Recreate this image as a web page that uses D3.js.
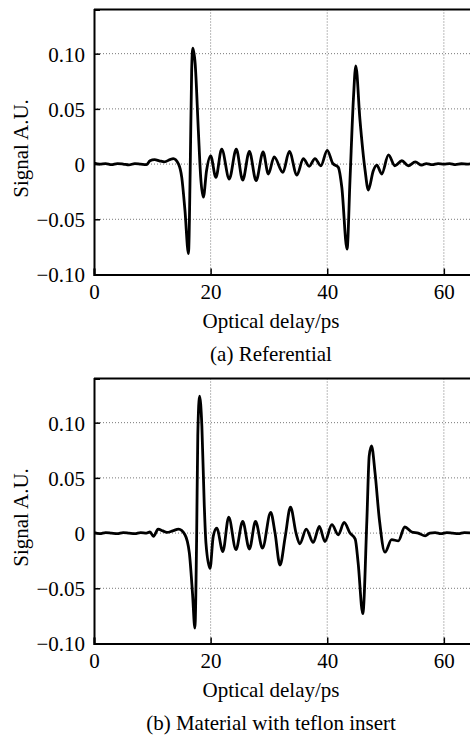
<!DOCTYPE html>
<html>
<head>
<meta charset="utf-8">
<script src="https://cdn.jsdelivr.net/npm/d3@7"></script>
<style>
  body { margin: 0; background: #fff; }
  svg text { font-family: "Liberation Serif", "Times New Roman", "DejaVu Serif", serif; }
</style>
</head>
<body>
<svg id="chart" width="470" height="739"></svg>
<script>
// values
const xTicks = [0, 20, 40, 60];
const yTicks = [-0.10, -0.05, 0, 0.05, 0.10];
const yTickLabels = ["\u22120.10", "\u22120.05", "0", "0.05", "0.10"];

const refDelay = [0, 1, 2, 3, 4, 5, 6, 7, 8, 9, 9.6, 10.4, 11.2, 12.1, 13, 13.6, 14.5, 15.05, 15.6, 16.2,
  16.5, 16.75, 16.95, 17.35, 17.9, 18.3, 18.75, 19.3, 20.0, 20.9, 21.9, 23.2, 24.4, 25.5, 26.65, 27.8,
  29.0, 29.9, 30.9, 32.4, 33.5, 34.8, 35.9, 36.9, 37.9, 38.9, 40.0, 40.95, 41.9, 42.5, 43.4, 43.9, 44.5,
  44.9, 45.6, 46.5, 47.05, 47.9, 48.5, 49.35, 50.5, 51.6, 52.8, 53.9, 55.1, 56.2, 57, 58, 59, 60, 61, 62, 63, 64, 65];
const refSignal = [0.001, 0, 0.0005, -0.0005, 0.0005, 0, -0.0008, 0.0005, 0, -0.0005, 0.003, 0.004, 0.003, 0.002, 0.004, 0.005, 0, -0.012, -0.042, -0.081,
  -0.005, 0.085, 0.105, 0.091, 0.030, -0.012, -0.030, -0.006, 0.0075, -0.012, 0.0135, -0.0135, 0.0135, -0.0145, 0.0115, -0.015,
  0.011, -0.009, 0.0065, -0.0075, 0.0115, -0.010, 0.005, -0.002, 0.005, -0.0015, 0.0125, 0.0006, -0.003, -0.021, -0.077, -0.015, 0.060,
  0.089, 0.041, -0.006, -0.0235, -0.006, -0.001, -0.009, 0.0084, -0.0015, 0.003, -0.0015, 0.002, -0.001, 0.0005, -0.0005, 0.0005, 0, 0.0005, -0.0005, 0.0003, 0, 0.0005];

const teflonDelay = [0, 1, 2, 3, 4, 5, 6, 7, 8, 9, 9.6, 10.2, 11.0, 11.8, 12.5, 13.5, 14.5, 15.6, 16.35, 16.9,
  17.3, 17.6, 17.8, 18.1, 18.5, 18.9, 19.2, 19.9, 20.45, 21.05, 22.1, 23.1, 24.35, 25.5, 26.65, 27.7, 28.9,
  30.3, 31.05, 31.9, 32.8, 33.7, 34.65, 35.3, 36.4, 37.6, 38.65, 39.6, 40.8, 41.9, 42.9, 43.9, 44.8, 45.3,
  46.1, 46.8, 47.2, 47.6, 48.2, 48.95, 49.9, 51.05, 52.2, 53.3, 54.5, 55.6, 56.8, 57.6, 58.5, 59.5, 60.5, 61.5, 62.5, 63.5, 65];
const teflonSignal = [0.0005, -0.0005, 0.0005, 0, -0.0005, 0.0005, 0, -0.0005, 0.0005, 0, 0.001, -0.003, 0.0036, 0.002, 0.0006, 0.002, 0.0036, -0.0015, -0.018, -0.055,
  -0.086, -0.005, 0.088, 0.124, 0.097, 0.027, -0.009, -0.032, -0.003, 0.0045, -0.0167, 0.0145, -0.015, 0.0106, -0.0145, 0.0106, -0.0136,
  0.0188, 0, -0.029, -0.003, 0.0236, 0, -0.0097, 0.0036, -0.0085, 0.006, -0.0076, 0.0076, -0.0015, 0.0097, 0, -0.0055, -0.027,
  -0.073, 0.012, 0.070, 0.079, 0.0545, 0.012, -0.0173, -0.006, -0.007, 0.0055, 0.001, 0, -0.0025, 0, 0.0005, -0.0005, 0.0005, 0, -0.0005, 0.0005, 0];

const svg = d3.select("#chart");
const left = 94, right = 473, plotH = 265;
const serif = "Liberation Serif, Times New Roman, serif";

const x = d3.scaleLinear().domain([0, 65]).range([left, right]);

function drawPanel(top, delay, signal, caption, id) {
  const bottom = top + plotH;
  const y = d3.scaleLinear().domain([-0.10, 0.14]).range([bottom, top]);
  const g = svg.append("g");

  // dotted grid
  g.selectAll(".gx").data(xTicks.filter(d => d > 0)).enter().append("line")
    .attr("x1", d => x(d)).attr("x2", d => x(d))
    .attr("y1", top).attr("y2", bottom)
    .attr("stroke", "#777").attr("stroke-width", 1).attr("stroke-dasharray", "1,2");
  g.selectAll(".gy").data(yTicks.filter(d => d > -0.1)).enter().append("line")
    .attr("x1", left).attr("x2", right)
    .attr("y1", d => y(d)).attr("y2", d => y(d))
    .attr("stroke", "#777").attr("stroke-width", 1).attr("stroke-dasharray", "1,2");

  // waveform
  svg.append("clipPath").attr("id", id).append("rect")
    .attr("x", left).attr("y", top).attr("width", right - left).attr("height", plotH);
  const line = d3.line()
    .x(d => x(d[0]))
    .y(d => y(d[1]))
    .curve(d3.curveMonotoneX);
  g.append("path")
    .datum(d3.zip(delay, signal))
    .attr("clip-path", "url(#" + id + ")")
    .attr("d", line)
    .attr("fill", "none")
    .attr("stroke", "#000")
    .attr("stroke-width", 2.8)
    .attr("stroke-linejoin", "round");

  // axes (ticks pointing inward)
  const xAxis = d3.axisBottom(x).tickValues(xTicks).tickSize(-6).tickPadding(10).tickFormat(d3.format("d"));
  const yAxis = d3.axisLeft(y).tickValues(yTicks).tickSize(-6).tickPadding(9)
    .tickFormat((d, i) => yTickLabels[i]);

  const gx = g.append("g").attr("transform", "translate(0," + bottom + ")").call(xAxis);
  const gy = g.append("g").attr("transform", "translate(" + left + ",0)").call(yAxis);
  [gx, gy].forEach(a => {
    a.attr("font-family", serif).attr("font-size", 21);
    a.select(".domain").attr("stroke", "#000").attr("stroke-width", 2);
    a.selectAll(".tick line").attr("stroke", "#000").attr("stroke-width", 1.5);
    a.selectAll(".tick text").attr("fill", "#000");
  });
  gy.selectAll(".tick text").attr("dy", "0.35em");

  // top frame line
  g.append("line").attr("x1", left).attr("x2", right)
    .attr("y1", top).attr("y2", top)
    .attr("stroke", "#000").attr("stroke-width", 2);

  // labels
  g.append("text")
    .attr("transform", "translate(28," + (top + 139) + ") rotate(-90)")
    .attr("text-anchor", "middle").attr("font-family", serif).attr("font-size", 21)
    .text("Signal A.U.");
  g.append("text")
    .attr("x", 271).attr("y", bottom + 53)
    .attr("text-anchor", "middle").attr("font-family", serif).attr("font-size", 21)
    .text("Optical delay/ps");
  g.append("text")
    .attr("x", 271).attr("y", bottom + 86)
    .attr("text-anchor", "middle").attr("font-family", serif).attr("font-size", 21)
    .text(caption);
}

drawPanel(9.5, refDelay, refSignal, "(a) Referential", "clipA");
drawPanel(378.5, teflonDelay, teflonSignal, "(b) Material with teflon insert", "clipB");
</script>
</body>
</html>
